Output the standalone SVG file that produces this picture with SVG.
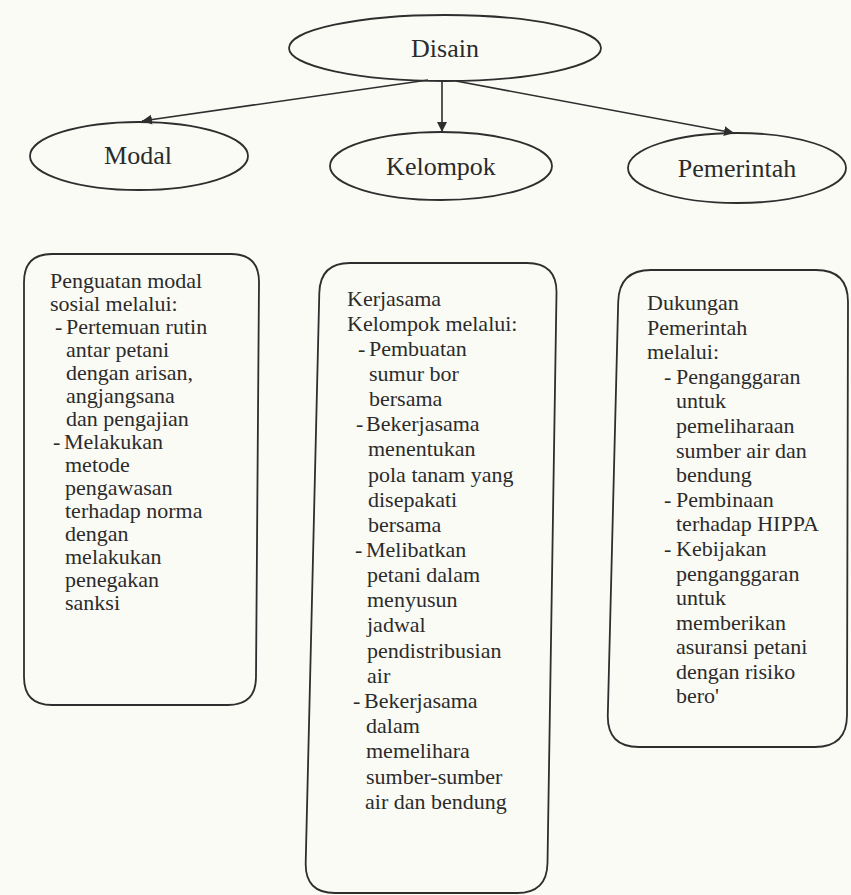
<svg xmlns="http://www.w3.org/2000/svg" width="851" height="895" viewBox="0 0 851 895">
<style>
.bg{fill:#fbfbf6}
.shape{fill:none;stroke:#2e2e2e;stroke-width:1.8}
.lbl{font-family:"Liberation Serif","Times New Roman",serif;font-size:26px;fill:#2b2b2b;text-anchor:middle}
.body{font-family:"Liberation Serif","Times New Roman",serif;font-size:22px;fill:#2b2b2b}
.conn{fill:none;stroke:#2e2e2e;stroke-width:1.6}
</style>
<defs>
<marker id="arr" viewBox="0 0 10 10" refX="10" refY="5" markerWidth="10" markerHeight="10" markerUnits="userSpaceOnUse" orient="auto">
<path d="M0,0 L10,5 L0,10 z" fill="#2e2e2e"/>
</marker>
</defs>
<rect class="bg" x="0" y="0" width="851" height="895"/>

<g id="connectors">
<line class="conn" x1="428" y1="80" x2="142" y2="121" marker-end="url(#arr)"/>
<line class="conn" x1="442" y1="81" x2="442" y2="132" marker-end="url(#arr)"/>
<line class="conn" x1="456" y1="81" x2="734" y2="133" marker-end="url(#arr)"/>
</g>

<g id="node-disain">
<ellipse class="shape" cx="445" cy="48" rx="156" ry="33"/>
<text class="lbl" x="445" y="57">Disain</text>
</g>

<g id="node-modal">
<ellipse class="shape" cx="139" cy="156" rx="109" ry="34"/>
<text class="lbl" x="138" y="164">Modal</text>
</g>

<g id="node-kelompok">
<ellipse class="shape" cx="441" cy="166" rx="111" ry="34"/>
<text class="lbl" x="441" y="175">Kelompok</text>
</g>

<g id="node-pemerintah">
<ellipse class="shape" cx="737" cy="168" rx="109" ry="35"/>
<text class="lbl" x="737" y="177">Pemerintah</text>
</g>

<g id="box-modal">
<path class="shape" d="M52,254 L231,254 Q259,254 259,282 L256,677 Q256,705 228,705 L52,705 Q24,705 24,677 L24,282 Q24,254 52,254 Z"/>
<text class="body">
<tspan x="50" y="288">Penguatan modal</tspan>
<tspan x="50" y="311">sosial melalui:</tspan>
<tspan x="55" y="334">-</tspan><tspan x="66" y="334">Pertemuan rutin</tspan>
<tspan x="66" y="357">antar petani</tspan>
<tspan x="66" y="380">dengan arisan,</tspan>
<tspan x="66" y="403">angjangsana</tspan>
<tspan x="66" y="426">dan pengajian</tspan>
<tspan x="53" y="449">-</tspan><tspan x="64" y="449">Melakukan</tspan>
<tspan x="65" y="472">metode</tspan>
<tspan x="65" y="495">pengawasan</tspan>
<tspan x="65" y="518">terhadap norma</tspan>
<tspan x="65" y="541">dengan</tspan>
<tspan x="65" y="564">melakukan</tspan>
<tspan x="65" y="587">penegakan</tspan>
<tspan x="65" y="610">sanksi</tspan>
</text>
</g>

<g id="box-kelompok">
<path class="shape" d="M350,263 L527,263 Q557,263 556.5,293 L547.5,863 Q547,893 517,893 L335,893 Q305,893 305.7,863 L319.3,293 Q320,263 350,263 Z"/>
<text class="body">
<tspan x="347" y="306">Kerjasama</tspan>
<tspan x="347" y="331">Kelompok melalui:</tspan>
<tspan x="358" y="356">-</tspan><tspan x="369" y="356">Pembuatan</tspan>
<tspan x="369" y="381">sumur bor</tspan>
<tspan x="369" y="406">bersama</tspan>
<tspan x="356" y="431">-</tspan><tspan x="366" y="431">Bekerjasama</tspan>
<tspan x="368" y="456">menentukan</tspan>
<tspan x="368" y="482">pola tanam yang</tspan>
<tspan x="368" y="507">disepakati</tspan>
<tspan x="368" y="532">bersama</tspan>
<tspan x="355" y="557">-</tspan><tspan x="366" y="557">Melibatkan</tspan>
<tspan x="367" y="582">petani dalam</tspan>
<tspan x="367" y="607">menyusun</tspan>
<tspan x="367" y="632">jadwal</tspan>
<tspan x="367" y="658">pendistribusian</tspan>
<tspan x="367" y="683">air</tspan>
<tspan x="353" y="708">-</tspan><tspan x="364" y="708">Bekerjasama</tspan>
<tspan x="366" y="733">dalam</tspan>
<tspan x="366" y="758">memelihara</tspan>
<tspan x="366" y="784">sumber-sumber</tspan>
<tspan x="365" y="809">air dan bendung</tspan>
</text>
</g>

<g id="box-pemerintah">
<path class="shape" d="M651,270 L816,270 Q848,270 848,302 L847,715 Q847,747 815,747 L639,747 Q607,747 607.8,715 L618.2,302 Q619,270 651,270 Z"/>
<text class="body">
<tspan x="647" y="310">Dukungan</tspan>
<tspan x="647" y="335">Pemerintah</tspan>
<tspan x="647" y="359">melalui:</tspan>
<tspan x="664" y="384">-</tspan><tspan x="676" y="384">Penganggaran</tspan>
<tspan x="676" y="408">untuk</tspan>
<tspan x="676" y="433">pemeliharaan</tspan>
<tspan x="676" y="458">sumber air dan</tspan>
<tspan x="676" y="482">bendung</tspan>
<tspan x="664" y="507">-</tspan><tspan x="676" y="507">Pembinaan</tspan>
<tspan x="676" y="531">terhadap HIPPA</tspan>
<tspan x="664" y="556">-</tspan><tspan x="676" y="556">Kebijakan</tspan>
<tspan x="676" y="581">penganggaran</tspan>
<tspan x="676" y="605">untuk</tspan>
<tspan x="676" y="630">memberikan</tspan>
<tspan x="676" y="654">asuransi petani</tspan>
<tspan x="676" y="679">dengan risiko</tspan>
<tspan x="676" y="703">bero'</tspan>
</text>
</g>
</svg>
